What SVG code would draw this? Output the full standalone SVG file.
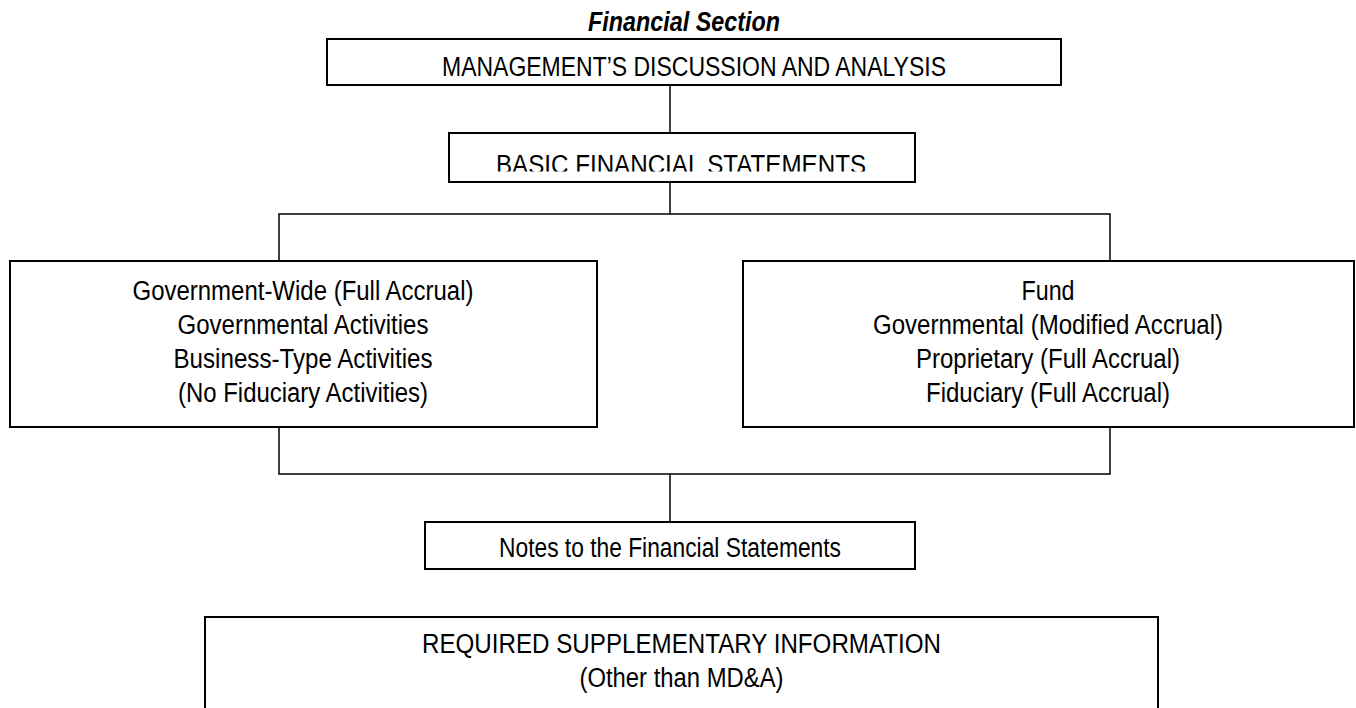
<svg xmlns="http://www.w3.org/2000/svg" width="1356" height="708" viewBox="0 0 1356 708">
  <style>
    .box { fill: #ffffff; stroke: #000000; stroke-width: 2; }
    .conn { fill: none; stroke: #000000; stroke-width: 1.5; }
    .t { font-family: "Liberation Sans Narrow", "Arial Narrow", "Liberation Sans", sans-serif; font-size: 27px; fill: #000000; text-anchor: middle; }
    .title { font-weight: bold; font-style: italic; }
  </style>
  <defs>
    <clipPath id="clipBasic"><rect x="449" y="133" width="466" height="38.5"/></clipPath>
  </defs>
  <rect width="1356" height="708" fill="#ffffff"/>
  <text class="t title" x="684" y="31" textLength="192" lengthAdjust="spacingAndGlyphs">Financial Section</text>
  <g id="connectors">
    <line class="conn" x1="670" y1="85" x2="670" y2="133"/>
    <line class="conn" x1="670" y1="182" x2="670" y2="214"/>
    <polyline class="conn" points="279,261 279,214 1110,214 1110,261"/>
    <polyline class="conn" points="279,427 279,474 1110,474 1110,427"/>
    <line class="conn" x1="670" y1="474" x2="670" y2="522"/>
  </g>
  <g id="mdna">
    <rect class="box" x="327" y="39" width="734" height="46"/>
    <text class="t" x="694" y="76" textLength="504" lengthAdjust="spacingAndGlyphs">MANAGEMENT’S DISCUSSION AND ANALYSIS</text>
  </g>
  <g id="basic">
    <rect class="box" x="449" y="133" width="466" height="49"/>
    <text class="t" x="681" y="173.5" textLength="370" lengthAdjust="spacingAndGlyphs" clip-path="url(#clipBasic)">BASIC FINANCIAL STATEMENTS</text>
  </g>
  <g id="govwide">
    <rect class="box" x="10" y="261" width="587" height="166"/>
    <text class="t" x="303" y="300" textLength="341" lengthAdjust="spacingAndGlyphs">Government-Wide (Full Accrual)</text>
    <text class="t" x="303" y="334" textLength="251" lengthAdjust="spacingAndGlyphs">Governmental Activities</text>
    <text class="t" x="303" y="368" textLength="259" lengthAdjust="spacingAndGlyphs">Business-Type Activities</text>
    <text class="t" x="303" y="402" textLength="250" lengthAdjust="spacingAndGlyphs">(No Fiduciary Activities)</text>
  </g>
  <g id="fund">
    <rect class="box" x="743" y="261" width="611" height="166"/>
    <text class="t" x="1048" y="300" textLength="53" lengthAdjust="spacingAndGlyphs">Fund</text>
    <text class="t" x="1048" y="334" textLength="350" lengthAdjust="spacingAndGlyphs">Governmental (Modified Accrual)</text>
    <text class="t" x="1048" y="368" textLength="264" lengthAdjust="spacingAndGlyphs">Proprietary (Full Accrual)</text>
    <text class="t" x="1048" y="402" textLength="244" lengthAdjust="spacingAndGlyphs">Fiduciary (Full Accrual)</text>
  </g>
  <g id="notes">
    <rect class="box" x="425" y="522" width="490" height="47"/>
    <text class="t" x="670" y="557" textLength="342" lengthAdjust="spacingAndGlyphs">Notes to the Financial Statements</text>
  </g>
  <g id="rsi">
    <rect class="box" x="205" y="617" width="953" height="100"/>
    <text class="t" x="681.5" y="653" textLength="519" lengthAdjust="spacingAndGlyphs">REQUIRED SUPPLEMENTARY INFORMATION</text>
    <text class="t" x="681.5" y="687" textLength="204" lengthAdjust="spacingAndGlyphs">(Other than MD&amp;A)</text>
  </g>
</svg>
